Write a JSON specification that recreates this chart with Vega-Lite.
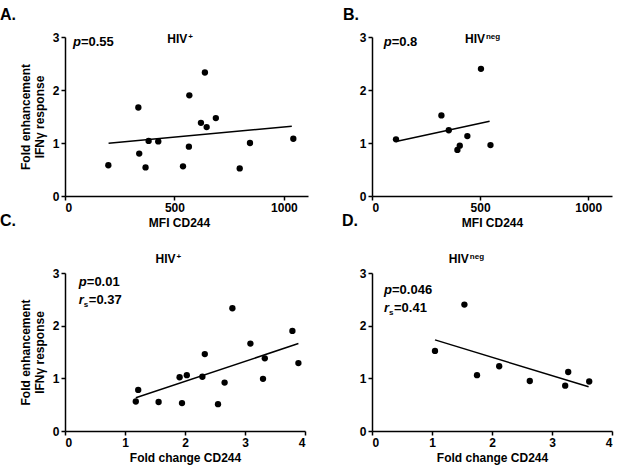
{
  "$schema": "https://vega.github.io/schema/vega-lite/v6.json",
  "padding": {"left": 0, "right": 5, "top": 7, "bottom": 5},
  "background": "white",
  "datasets": {
    "points": [
      {"panel": "A", "x": 198, "y": 0.58}, {"panel": "A", "x": 335, "y": 1.67}, {"panel": "A", "x": 339, "y": 0.80},
      {"panel": "A", "x": 368, "y": 0.54}, {"panel": "A", "x": 382, "y": 1.04}, {"panel": "A", "x": 426, "y": 1.03},
      {"panel": "A", "x": 539, "y": 0.56}, {"panel": "A", "x": 566, "y": 0.93}, {"panel": "A", "x": 568, "y": 1.90},
      {"panel": "A", "x": 621, "y": 1.38}, {"panel": "A", "x": 639, "y": 2.33}, {"panel": "A", "x": 647, "y": 1.30},
      {"panel": "A", "x": 689, "y": 1.47}, {"panel": "A", "x": 798, "y": 0.52}, {"panel": "A", "x": 845, "y": 1.00},
      {"panel": "A", "x": 1043, "y": 1.08},
      {"panel": "B", "x": 111, "y": 1.07}, {"panel": "B", "x": 321, "y": 1.52}, {"panel": "B", "x": 355, "y": 1.24},
      {"panel": "B", "x": 395, "y": 0.87}, {"panel": "B", "x": 406, "y": 0.95}, {"panel": "B", "x": 441, "y": 1.13},
      {"panel": "B", "x": 504, "y": 2.40}, {"panel": "B", "x": 548, "y": 0.96},
      {"panel": "C", "x": 1.18, "y": 0.56}, {"panel": "C", "x": 1.22, "y": 0.78}, {"panel": "C", "x": 1.56, "y": 0.55},
      {"panel": "C", "x": 1.91, "y": 1.02}, {"panel": "C", "x": 1.95, "y": 0.53}, {"panel": "C", "x": 2.03, "y": 1.06},
      {"panel": "C", "x": 2.29, "y": 1.03}, {"panel": "C", "x": 2.33, "y": 1.46}, {"panel": "C", "x": 2.55, "y": 0.51},
      {"panel": "C", "x": 2.66, "y": 0.92}, {"panel": "C", "x": 2.79, "y": 2.33}, {"panel": "C", "x": 3.09, "y": 1.66},
      {"panel": "C", "x": 3.30, "y": 0.99}, {"panel": "C", "x": 3.33, "y": 1.38}, {"panel": "C", "x": 3.79, "y": 1.90},
      {"panel": "C", "x": 3.89, "y": 1.29},
      {"panel": "D", "x": 1.05, "y": 1.52}, {"panel": "D", "x": 1.54, "y": 2.40}, {"panel": "D", "x": 1.75, "y": 1.06},
      {"panel": "D", "x": 2.12, "y": 1.23}, {"panel": "D", "x": 2.63, "y": 0.95}, {"panel": "D", "x": 3.22, "y": 0.86},
      {"panel": "D", "x": 3.27, "y": 1.12}, {"panel": "D", "x": 3.62, "y": 0.94}
    ],
    "fits": [
      {"panel": "A", "x": 199, "y": 0.996}, {"panel": "A", "x": 1036, "y": 1.315},
      {"panel": "B", "x": 111, "y": 1.03}, {"panel": "B", "x": 544, "y": 1.41},
      {"panel": "C", "x": 1.18, "y": 0.63}, {"panel": "C", "x": 3.89, "y": 1.66},
      {"panel": "D", "x": 1.05, "y": 1.73}, {"panel": "D", "x": 3.61, "y": 0.84}
    ],
    "labels": [
      {"panel": "A", "kind": "grp", "x": 467, "y": 2.88, "text": "HIV"},
      {"panel": "A", "kind": "sup", "x": 467, "y": 2.88, "text": "+"},
      {"panel": "A", "kind": "p", "x": 36, "y": 2.83, "text": "p"},
      {"panel": "A", "kind": "pval", "x": 36, "y": 2.83, "text": "=0.55"},
      {"panel": "B", "kind": "grp", "x": 430, "y": 2.89, "text": "HIV"},
      {"panel": "B", "kind": "sup", "x": 430, "y": 2.89, "text": "neg"},
      {"panel": "B", "kind": "p", "x": 54, "y": 2.83, "text": "p"},
      {"panel": "B", "kind": "pval", "x": 54, "y": 2.83, "text": "=0.8"},
      {"panel": "C", "kind": "grp", "x": 1.51, "y": 3.19, "text": "HIV"},
      {"panel": "C", "kind": "sup", "x": 1.51, "y": 3.19, "text": "+"},
      {"panel": "C", "kind": "p", "x": 0.23, "y": 2.75, "text": "p"},
      {"panel": "C", "kind": "pval", "x": 0.23, "y": 2.75, "text": "=0.01"},
      {"panel": "C", "kind": "r", "x": 0.23, "y": 2.41, "text": "r"},
      {"panel": "C", "kind": "sub", "x": 0.23, "y": 2.41, "text": "s"},
      {"panel": "C", "kind": "rval", "x": 0.23, "y": 2.41, "text": "=0.37"},
      {"panel": "D", "kind": "grp", "x": 1.28, "y": 3.19, "text": "HIV"},
      {"panel": "D", "kind": "sup", "x": 1.28, "y": 3.19, "text": "neg"},
      {"panel": "D", "kind": "p", "x": 0.20, "y": 2.61, "text": "p"},
      {"panel": "D", "kind": "pval", "x": 0.20, "y": 2.61, "text": "=0.046"},
      {"panel": "D", "kind": "r", "x": 0.20, "y": 2.26, "text": "r"},
      {"panel": "D", "kind": "sub", "x": 0.20, "y": 2.26, "text": "s"},
      {"panel": "D", "kind": "rval", "x": 0.20, "y": 2.26, "text": "=0.41"}
    ]
  },
  "config": {
    "view": {"stroke": null},
    "font": "Liberation Sans",
    "axis": {
      "grid": false,
      "domainColor": "black", "domainWidth": 1.5,
      "tickColor": "black", "tickWidth": 1.5, "tickSize": 4,
      "labelFont": "Liberation Sans", "labelFontWeight": "bold", "labelFontSize": 12, "labelColor": "black",
      "titleFont": "Liberation Sans", "titleFontWeight": "bold", "titleFontSize": 12, "titleColor": "black",
      "labelPadding": 2
    },
    "title": {"font": "Liberation Sans", "fontWeight": "bold", "fontSize": 16, "color": "black", "anchor": "start", "frame": "group"}
  },
  "columns": 2,
  "bounds": "flush",
  "spacing": {"row": 77, "column": 64},
  "concat": [
    {
      "width": 243, "height": 159,
      "title": {"text": "A.", "dx": -65, "offset": 8},
      "encoding": {
        "x": {"field": "x", "type": "quantitative", "scale": {"domain": [0, 1110], "nice": false, "zero": false},
              "axis": {"values": [0, 500, 1000], "format": "d", "title": "MFI CD244", "titlePadding": 4, "titleX": 114}},
        "y": {"field": "y", "type": "quantitative", "scale": {"domain": [0, 3], "nice": false},
              "axis": {"values": [0, 1, 2, 3], "title": ["Fold enhancement", "IFNγ response"], "titlePadding": 6}}
      },
      "layer": [
        {"data": {"name": "fits"}, "transform": [{"filter": "datum.panel === 'A'"}], "mark": {"type": "line", "color": "black", "strokeWidth": 1.5}},
        {"data": {"name": "points"}, "transform": [{"filter": "datum.panel === 'A'"}], "mark": {"type": "circle", "size": 40, "color": "black", "opacity": 1}},
        {"data": {"name": "labels"}, "transform": [{"filter": "datum.panel === 'A' && datum.kind === 'grp'"}], "mark": {"type": "text", "align": "left", "baseline": "alphabetic", "fontWeight": "bold", "fontSize": 12, "color": "black"}, "encoding": {"text": {"field": "text"}}},
        {"data": {"name": "labels"}, "transform": [{"filter": "datum.panel === 'A' && datum.kind === 'sup'"}], "mark": {"type": "text", "align": "left", "baseline": "alphabetic", "fontWeight": "bold", "fontSize": 8, "dx": 21, "dy": -4, "color": "black"}, "encoding": {"text": {"field": "text"}}},
        {"data": {"name": "labels"}, "transform": [{"filter": "datum.panel === 'A' && datum.kind === 'p'"}], "mark": {"type": "text", "align": "left", "baseline": "alphabetic", "fontWeight": "bold", "fontStyle": "italic", "fontSize": 13, "color": "black"}, "encoding": {"text": {"field": "text"}}},
        {"data": {"name": "labels"}, "transform": [{"filter": "datum.panel === 'A' && datum.kind === 'pval'"}], "mark": {"type": "text", "align": "left", "baseline": "alphabetic", "fontWeight": "bold", "fontSize": 13, "dx": 8, "color": "black"}, "encoding": {"text": {"field": "text"}}}
      ]
    },
    {
      "width": 240, "height": 159,
      "title": {"text": "B.", "dx": -29, "offset": 8},
      "encoding": {
        "x": {"field": "x", "type": "quantitative", "scale": {"domain": [0, 1110], "nice": false, "zero": false},
              "axis": {"values": [0, 500, 1000], "format": "d", "title": "MFI CD244", "titlePadding": 4}},
        "y": {"field": "y", "type": "quantitative", "scale": {"domain": [0, 3], "nice": false},
              "axis": {"values": [0, 1, 2, 3], "title": null}}
      },
      "layer": [
        {"data": {"name": "fits"}, "transform": [{"filter": "datum.panel === 'B'"}], "mark": {"type": "line", "color": "black", "strokeWidth": 1.5}},
        {"data": {"name": "points"}, "transform": [{"filter": "datum.panel === 'B'"}], "mark": {"type": "circle", "size": 40, "color": "black", "opacity": 1}},
        {"data": {"name": "labels"}, "transform": [{"filter": "datum.panel === 'B' && datum.kind === 'grp'"}], "mark": {"type": "text", "align": "left", "baseline": "alphabetic", "fontWeight": "bold", "fontSize": 12, "color": "black"}, "encoding": {"text": {"field": "text"}}},
        {"data": {"name": "labels"}, "transform": [{"filter": "datum.panel === 'B' && datum.kind === 'sup'"}], "mark": {"type": "text", "align": "left", "baseline": "alphabetic", "fontWeight": "bold", "fontSize": 8, "dx": 21, "dy": -4, "color": "black"}, "encoding": {"text": {"field": "text"}}},
        {"data": {"name": "labels"}, "transform": [{"filter": "datum.panel === 'B' && datum.kind === 'p'"}], "mark": {"type": "text", "align": "left", "baseline": "alphabetic", "fontWeight": "bold", "fontStyle": "italic", "fontSize": 13, "color": "black"}, "encoding": {"text": {"field": "text"}}},
        {"data": {"name": "labels"}, "transform": [{"filter": "datum.panel === 'B' && datum.kind === 'pval'"}], "mark": {"type": "text", "align": "left", "baseline": "alphabetic", "fontWeight": "bold", "fontSize": 13, "dx": 8, "color": "black"}, "encoding": {"text": {"field": "text"}}}
      ]
    },
    {
      "width": 240, "height": 158,
      "title": {"text": "C.", "dx": -65, "offset": 24},
      "encoding": {
        "x": {"field": "x", "type": "quantitative", "scale": {"domain": [0, 4], "nice": false, "zero": false},
              "axis": {"values": [0, 1, 2, 3, 4], "title": "Fold change CD244", "titlePadding": 4}},
        "y": {"field": "y", "type": "quantitative", "scale": {"domain": [0, 3], "nice": false},
              "axis": {"values": [0, 1, 2, 3], "title": ["Fold enhancement", "IFNγ response"], "titlePadding": 6}}
      },
      "layer": [
        {"data": {"name": "fits"}, "transform": [{"filter": "datum.panel === 'C'"}], "mark": {"type": "line", "color": "black", "strokeWidth": 1.5}},
        {"data": {"name": "points"}, "transform": [{"filter": "datum.panel === 'C'"}], "mark": {"type": "circle", "size": 40, "color": "black", "opacity": 1}},
        {"data": {"name": "labels"}, "transform": [{"filter": "datum.panel === 'C' && datum.kind === 'grp'"}], "mark": {"type": "text", "align": "left", "baseline": "alphabetic", "fontWeight": "bold", "fontSize": 12, "color": "black"}, "encoding": {"text": {"field": "text"}}},
        {"data": {"name": "labels"}, "transform": [{"filter": "datum.panel === 'C' && datum.kind === 'sup'"}], "mark": {"type": "text", "align": "left", "baseline": "alphabetic", "fontWeight": "bold", "fontSize": 8, "dx": 21, "dy": -4, "color": "black"}, "encoding": {"text": {"field": "text"}}},
        {"data": {"name": "labels"}, "transform": [{"filter": "datum.panel === 'C' && (datum.kind === 'p' || datum.kind === 'r')"}], "mark": {"type": "text", "align": "left", "baseline": "alphabetic", "fontWeight": "bold", "fontStyle": "italic", "fontSize": 13, "color": "black"}, "encoding": {"text": {"field": "text"}}},
        {"data": {"name": "labels"}, "transform": [{"filter": "datum.panel === 'C' && datum.kind === 'pval'"}], "mark": {"type": "text", "align": "left", "baseline": "alphabetic", "fontWeight": "bold", "fontSize": 13, "dx": 8, "color": "black"}, "encoding": {"text": {"field": "text"}}},
        {"data": {"name": "labels"}, "transform": [{"filter": "datum.panel === 'C' && datum.kind === 'sub'"}], "mark": {"type": "text", "align": "left", "baseline": "alphabetic", "fontWeight": "bold", "fontSize": 8, "dx": 5, "dy": 3, "color": "black"}, "encoding": {"text": {"field": "text"}}},
        {"data": {"name": "labels"}, "transform": [{"filter": "datum.panel === 'C' && datum.kind === 'rval'"}], "mark": {"type": "text", "align": "left", "baseline": "alphabetic", "fontWeight": "bold", "fontSize": 13, "dx": 10, "color": "black"}, "encoding": {"text": {"field": "text"}}}
      ]
    },
    {
      "width": 240, "height": 158,
      "title": {"text": "D.", "dx": -30, "offset": 24},
      "encoding": {
        "x": {"field": "x", "type": "quantitative", "scale": {"domain": [0, 4], "nice": false, "zero": false},
              "axis": {"values": [0, 1, 2, 3, 4], "title": "Fold change CD244", "titlePadding": 4}},
        "y": {"field": "y", "type": "quantitative", "scale": {"domain": [0, 3], "nice": false},
              "axis": {"values": [0, 1, 2, 3], "title": null}}
      },
      "layer": [
        {"data": {"name": "fits"}, "transform": [{"filter": "datum.panel === 'D'"}], "mark": {"type": "line", "color": "black", "strokeWidth": 1.5}},
        {"data": {"name": "points"}, "transform": [{"filter": "datum.panel === 'D'"}], "mark": {"type": "circle", "size": 40, "color": "black", "opacity": 1}},
        {"data": {"name": "labels"}, "transform": [{"filter": "datum.panel === 'D' && datum.kind === 'grp'"}], "mark": {"type": "text", "align": "left", "baseline": "alphabetic", "fontWeight": "bold", "fontSize": 12, "color": "black"}, "encoding": {"text": {"field": "text"}}},
        {"data": {"name": "labels"}, "transform": [{"filter": "datum.panel === 'D' && datum.kind === 'sup'"}], "mark": {"type": "text", "align": "left", "baseline": "alphabetic", "fontWeight": "bold", "fontSize": 8, "dx": 21, "dy": -4, "color": "black"}, "encoding": {"text": {"field": "text"}}},
        {"data": {"name": "labels"}, "transform": [{"filter": "datum.panel === 'D' && (datum.kind === 'p' || datum.kind === 'r')"}], "mark": {"type": "text", "align": "left", "baseline": "alphabetic", "fontWeight": "bold", "fontStyle": "italic", "fontSize": 13, "color": "black"}, "encoding": {"text": {"field": "text"}}},
        {"data": {"name": "labels"}, "transform": [{"filter": "datum.panel === 'D' && datum.kind === 'pval'"}], "mark": {"type": "text", "align": "left", "baseline": "alphabetic", "fontWeight": "bold", "fontSize": 13, "dx": 8, "color": "black"}, "encoding": {"text": {"field": "text"}}},
        {"data": {"name": "labels"}, "transform": [{"filter": "datum.panel === 'D' && datum.kind === 'sub'"}], "mark": {"type": "text", "align": "left", "baseline": "alphabetic", "fontWeight": "bold", "fontSize": 8, "dx": 5, "dy": 3, "color": "black"}, "encoding": {"text": {"field": "text"}}},
        {"data": {"name": "labels"}, "transform": [{"filter": "datum.panel === 'D' && datum.kind === 'rval'"}], "mark": {"type": "text", "align": "left", "baseline": "alphabetic", "fontWeight": "bold", "fontSize": 13, "dx": 10, "color": "black"}, "encoding": {"text": {"field": "text"}}}
      ]
    }
  ]
}
